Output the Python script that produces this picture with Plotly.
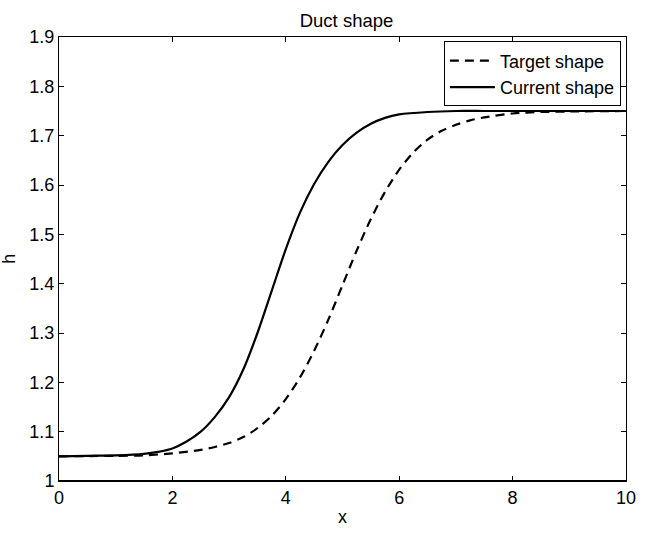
import plotly.graph_objects as go

# Values
current_x = [0, 0.5, 1.0, 1.5, 1.75, 2.0, 2.25, 2.5, 2.75, 3.0, 3.25, 3.5, 3.75, 4.0, 4.25,
             4.5, 4.75, 5.0, 5.25, 5.5, 5.75, 6.0, 6.5, 7.0, 7.5, 8.0, 9.0, 10.0]
current_h = [1.050, 1.051, 1.052, 1.055, 1.059, 1.066, 1.080, 1.100, 1.130, 1.170, 1.226,
             1.300, 1.385, 1.470, 1.544, 1.602, 1.647, 1.681, 1.706, 1.724, 1.736, 1.743,
             1.748, 1.750, 1.750, 1.750, 1.750, 1.750]

target_x = [0, 1.0, 1.5, 2.0, 2.5, 2.75, 3.0, 3.25, 3.5, 3.75, 4.0, 4.25, 4.5, 4.75,
            5.0, 5.25, 5.5, 5.75, 6.0, 6.25, 6.5, 6.75, 7.0, 7.25, 7.5, 8.0, 8.5, 9.0, 10.0]
target_h = [1.050, 1.051, 1.052, 1.056, 1.063, 1.069, 1.077, 1.089, 1.107, 1.132, 1.166,
            1.210, 1.264, 1.327, 1.397, 1.467, 1.531, 1.586, 1.631, 1.666, 1.692, 1.710,
            1.722, 1.731, 1.737, 1.745, 1.748, 1.749, 1.750]

x_ticks = [0, 2, 4, 6, 8, 10]
y_ticks = [1, 1.1, 1.2, 1.3, 1.4, 1.5, 1.6, 1.7, 1.8, 1.9]
y_tick_labels = ["1", "1.1", "1.2", "1.3", "1.4", "1.5", "1.6", "1.7", "1.8", "1.9"]

FONT = "Liberation Sans, Arial, Helvetica, sans-serif"

fig = go.Figure()
fig.add_trace(go.Scatter(x=target_x, y=target_h, mode="lines", name="Target shape",
                         line=dict(color="black", width=2.2, dash="9px,6px", shape="spline",
                                   smoothing=0.8)))
fig.add_trace(go.Scatter(x=current_x, y=current_h, mode="lines", name="Current shape",
                         line=dict(color="black", width=2.2, shape="spline", smoothing=0.8)))

fig.update_layout(
    width=648, height=535,
    margin=dict(l=59, r=14, t=37, b=44),
    paper_bgcolor="white", plot_bgcolor="white",
    font=dict(family=FONT, size=18, color="black"),
    title=dict(text="Duct shape", x=346.5 / 648, xanchor="center",
               y=1 - 21 / 535, yanchor="middle", yref="container",
               font=dict(family=FONT, size=18.5, color="black")),
    showlegend=True,
    legend=dict(x=0.991, xanchor="right", y=0.99, yanchor="top",
                bordercolor="black", borderwidth=1, bgcolor="white",
                font=dict(family=FONT, size=18, color="black"),
                tracegroupgap=0, itemwidth=45),
)
fig.update_xaxes(range=[0, 10], tickvals=x_ticks, ticks="inside", ticklen=5,
                 tickcolor="black", showline=True, linecolor="black", linewidth=1,
                 mirror="ticks", showgrid=False, zeroline=False,
                 title=dict(text="x", standoff=3, font=dict(family=FONT, size=18)))
fig.update_yaxes(range=[1, 1.9], tickvals=y_ticks, ticktext=y_tick_labels,
                 ticks="inside", ticklen=5, tickcolor="black",
                 showline=True, linecolor="black", linewidth=1, mirror="ticks",
                 showgrid=False, zeroline=False)
fig.add_annotation(text="h", xref="paper", yref="paper", x=(8 - 59) / 575, y=0.5,
                   xanchor="center", yanchor="middle", textangle=-90, showarrow=False,
                   font=dict(family=FONT, size=18, color="black"))
fig.add_shape(type="line", xref="paper", yref="paper", x0=0, x1=1, y0=0, y1=0,
              line=dict(color="black", width=2))

fig.write_html("out.html")
